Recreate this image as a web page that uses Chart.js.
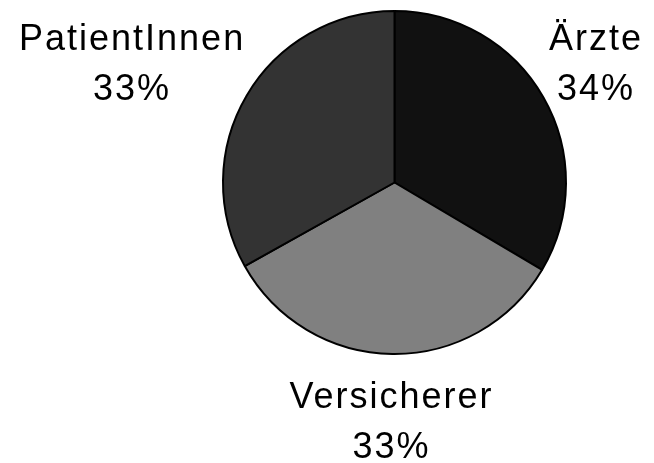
<!DOCTYPE html>
<html>
<head>
    <meta charset="utf-8">
    <title>Pie Chart</title>
    <style>
        body {
            margin: 0;
            padding: 0;
            background-color: #fff;
        }
        .container {
            width: 654px;
            height: 463px;
        }
    </style>
</head>
<body>
    <div class="container">
        <canvas id="pieChart" width="654" height="463"></canvas>
    </div>

    <script src="https://cdn.jsdelivr.net/npm/chart.js"></script>
    <script>
        const categories = ['Ärzte', 'Versicherer', 'PatientInnen'];
        const shares = [33.5, 33.4, 33.1];
        const sliceColors = ['#111111', '#808080', '#333333'];

        // labels outside the pie: name on first line, percentage below,
        // pushed outwards and then kept inside the canvas edges
        const outsideLabels = {
            id: 'outsideLabels',
            afterDatasetsDraw(chart) {
                const ctx = chart.ctx;
                const meta = chart.getDatasetMeta(0);
                const total = shares.reduce((a, b) => a + b, 0);
                const capHeight = 26;
                const lineHeight = 50;
                const edge = { left: 18, right: 12, top: 24, bottom: 5 };
                ctx.save();
                ctx.font = '36px "Liberation Sans", Arial, sans-serif';
                ctx.letterSpacing = '2px';
                ctx.fillStyle = '#000';
                ctx.textAlign = 'center';
                ctx.textBaseline = 'alphabetic';
                meta.data.forEach((arc, i) => {
                    const p = arc.getProps(['x', 'y', 'startAngle', 'endAngle', 'outerRadius'], true);
                    const mid = (p.startAngle + p.endAngle) / 2;
                    const dx = Math.cos(mid);
                    const dy = Math.sin(mid);
                    const lines = [categories[i], Math.round(shares[i] * 100 / total) + '%'];
                    const w = Math.max(...lines.map(t => ctx.measureText(t).width));
                    const h = capHeight + lineHeight;
                    const r = p.outerRadius + 40;
                    let cx = p.x + dx * r + dx * w / 2;
                    let cy = p.y + dy * r + dy * h / 2;
                    cx = Math.min(cx, chart.width - edge.right - w / 2);
                    cx = Math.max(cx, edge.left + w / 2);
                    cy = Math.min(cy, chart.height - edge.bottom - h / 2);
                    cy = Math.max(cy, edge.top + h / 2);
                    const top = cy - h / 2;
                    lines.forEach((t, k) => {
                        ctx.fillText(t, cx + 1, top + capHeight + k * lineHeight);
                    });
                });
                ctx.restore();
            }
        };

        new Chart(document.getElementById('pieChart'), {
            type: 'pie',
            data: {
                labels: categories,
                datasets: [{
                    data: shares,
                    backgroundColor: sliceColors,
                    borderColor: '#000',
                    borderWidth: 2
                }]
            },
            options: {
                responsive: false,
                animation: false,
                layout: {
                    padding: { left: 222, right: 87, top: 10, bottom: 108 }
                },
                plugins: {
                    legend: { display: false },
                    tooltip: { enabled: false }
                }
            },
            plugins: [outsideLabels]
        });
    </script>
</body>
</html>
